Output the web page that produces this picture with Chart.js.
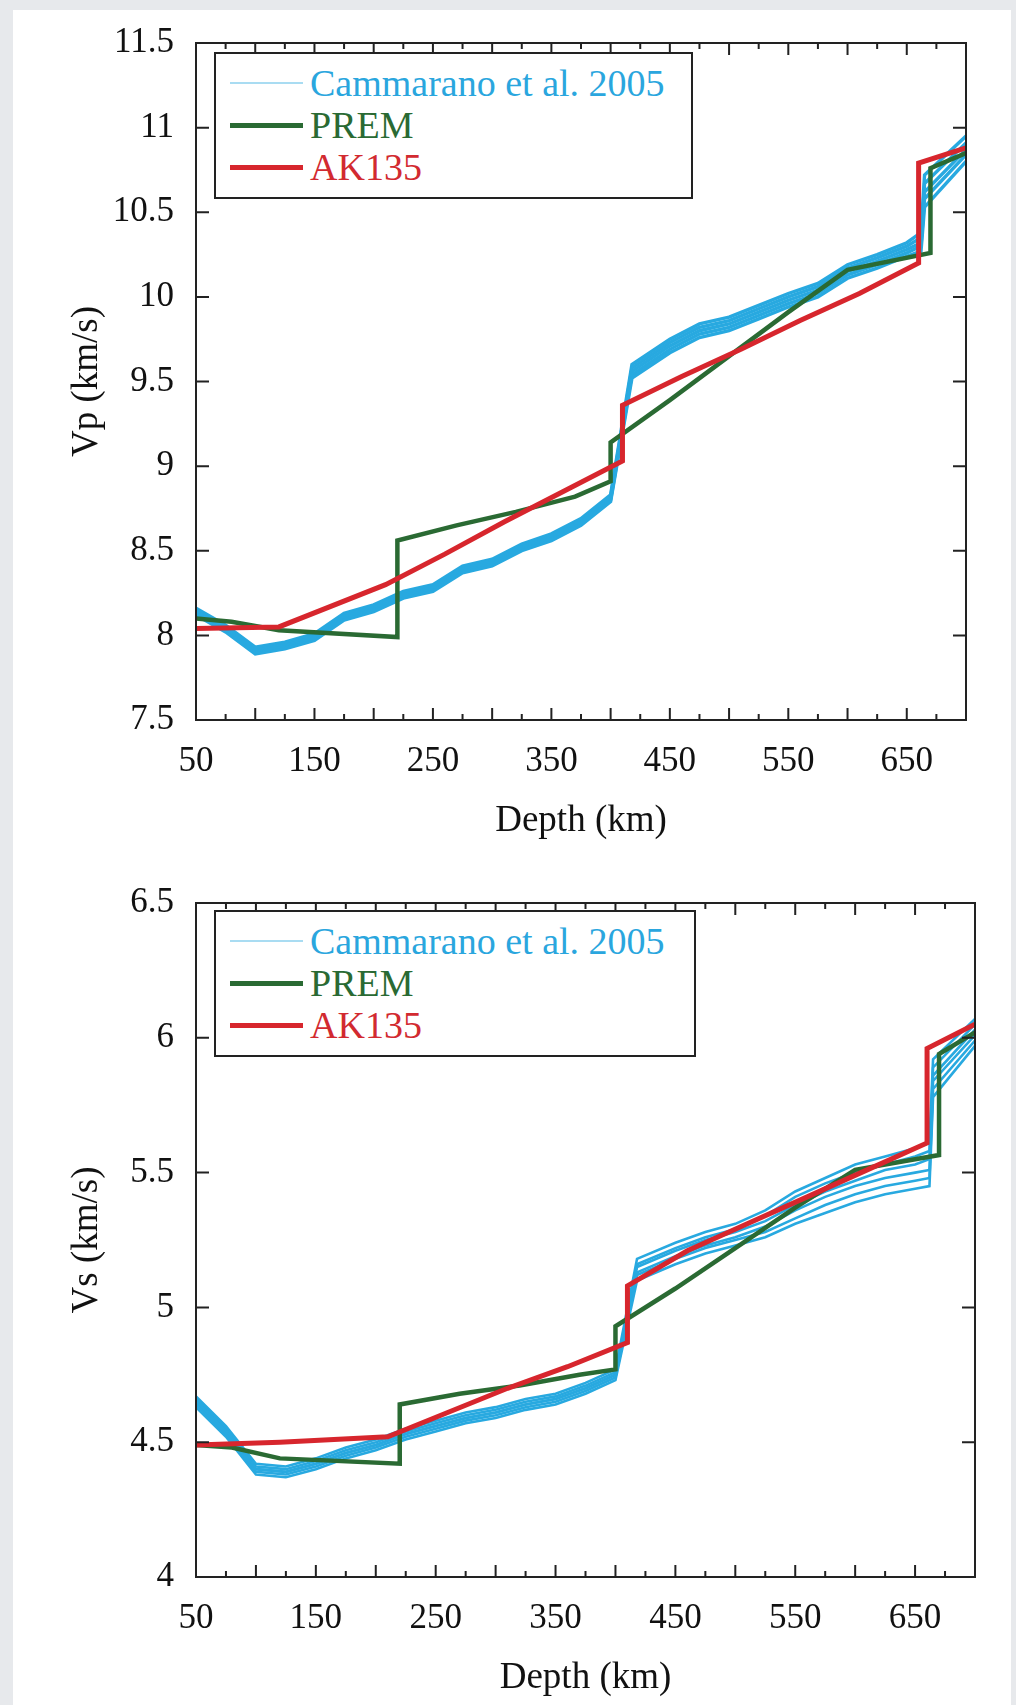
<!DOCTYPE html>
<html>
<head>
<meta charset="utf-8">
<title>Vp and Vs versus depth</title>
<script src="https://cdn.jsdelivr.net/npm/chart.js@4.4.1/dist/chart.umd.min.js"></script>
<style>
  html, body { margin: 0; padding: 0; background: #e7e9ec; }
  #page { position: relative; width: 1016px; height: 1705px; overflow: hidden; }
  #sheet { position: absolute; left: 13px; top: 10px; width: 998px; height: 1695px; background: #fff; }
  canvas { position: absolute; left: 0; }
  #vpChart { top: 0; }
  #vsChart { top: 860px; }
  .legend {
    position: absolute; left: 214px; width: 479px; height: 147px;
    box-sizing: border-box; border: 2px solid #222; background: #fff;
    padding-top: 8px;
    font-family: 'Liberation Serif', 'Times New Roman', serif; font-size: 38px;
  }
  #vpLegend { top: 52px; }
  #vsLegend { top: 910px; width: 482px; }
  .legend .row { display: flex; align-items: center; height: 42px; line-height: 42px; white-space: nowrap; }
  .legend .swatch { margin-left: 14px; margin-right: 7px; width: 73px; }
</style>
</head>
<body>
<div id="page">
  <div id="sheet"></div>
  <canvas id="vpChart" width="1016" height="860"></canvas>
  <canvas id="vsChart" width="1016" height="845"></canvas>
  <div id="vpLegend" class="legend"></div>
  <div id="vsLegend" class="legend"></div>
</div>
<script>
// Values (depth in km, velocity in km/s)

const xTickVals = [50, 150, 250, 350, 450, 550, 650];
const vpTickVals = [7.5, 8, 8.5, 9, 9.5, 10, 10.5, 11, 11.5];
const vsTickVals = [4, 4.5, 5, 5.5, 6, 6.5];

const seriesNames = ['Cammarano et al. 2005', 'PREM', 'AK135'];

// PREM
const premDepth = [50, 80, 120, 220, 220, 270, 320, 370, 400, 400, 450, 500, 550, 600, 670, 670, 700];
const premVp = [8.10, 8.08, 8.03, 7.99, 8.56, 8.65, 8.73, 8.82, 8.91, 9.14, 9.39, 9.65, 9.91, 10.16, 10.26, 10.76, 10.85];
const premVs = [4.49, 4.48, 4.44, 4.42, 4.64, 4.68, 4.71, 4.75, 4.77, 4.93, 5.07, 5.22, 5.37, 5.51, 5.565, 5.94, 6.02];

// AK135
const ak135Depth = [50, 120, 210, 260, 310, 360, 410, 410, 460, 510, 560, 610, 660, 660, 700];
const ak135Vp = [8.04, 8.05, 8.30, 8.48, 8.67, 8.85, 9.03, 9.36, 9.53, 9.69, 9.86, 10.02, 10.20, 10.79, 10.88];
const ak135Vs = [4.49, 4.50, 4.52, 4.61, 4.70, 4.78, 4.87, 5.08, 5.21, 5.31, 5.41, 5.51, 5.61, 5.96, 6.05];

// Cammarano et al. 2005 (bundle of profiles)
const cammDepth = [50, 75, 100, 125, 150, 175, 200, 225, 250, 275, 300, 325, 350, 375, 400, 418, 450, 475, 500, 525, 550, 575, 600, 625, 650, 662, 665, 700];

const cammVp = [
  [8.12, 8.02, 7.89, 7.92, 7.97, 8.09, 8.14, 8.22, 8.26, 8.37, 8.41, 8.50, 8.56, 8.65, 8.79, 9.52, 9.67, 9.76, 9.80, 9.87, 9.94, 10.00, 10.11, 10.17, 10.24, 10.27, 10.53, 10.80],
  [8.13, 8.03, 7.90, 7.93, 7.98, 8.10, 8.15, 8.23, 8.27, 8.38, 8.42, 8.51, 8.57, 8.66, 8.80, 9.54, 9.69, 9.78, 9.82, 9.89, 9.96, 10.02, 10.13, 10.19, 10.26, 10.30, 10.58, 10.84],
  [8.14, 8.04, 7.91, 7.94, 7.99, 8.11, 8.16, 8.24, 8.28, 8.39, 8.43, 8.52, 8.58, 8.67, 8.81, 9.56, 9.71, 9.80, 9.84, 9.91, 9.98, 10.04, 10.15, 10.21, 10.28, 10.32, 10.62, 10.87],
  [8.15, 8.05, 7.92, 7.95, 8.00, 8.12, 8.17, 8.25, 8.29, 8.40, 8.44, 8.53, 8.59, 8.68, 8.82, 9.58, 9.73, 9.82, 9.86, 9.93, 10.00, 10.06, 10.17, 10.23, 10.30, 10.35, 10.67, 10.91],
  [8.16, 8.06, 7.93, 7.96, 8.01, 8.13, 8.18, 8.26, 8.30, 8.41, 8.45, 8.54, 8.60, 8.69, 8.83, 9.60, 9.75, 9.84, 9.88, 9.95, 10.02, 10.08, 10.19, 10.25, 10.32, 10.38, 10.72, 10.95]
];

const cammVs = [
  [4.63, 4.52, 4.38, 4.37, 4.40, 4.44, 4.47, 4.51, 4.54, 4.57, 4.59, 4.62, 4.64, 4.68, 4.73, 5.10, 5.16, 5.20, 5.23, 5.26, 5.31, 5.35, 5.39, 5.42, 5.44, 5.45, 5.78, 5.97],
  [4.64, 4.53, 4.39, 4.38, 4.41, 4.45, 4.48, 4.52, 4.55, 4.58, 4.60, 4.63, 4.65, 4.69, 4.74, 5.12, 5.18, 5.22, 5.25, 5.28, 5.33, 5.38, 5.42, 5.45, 5.47, 5.48, 5.81, 5.99],
  [4.65, 4.54, 4.40, 4.39, 4.42, 4.46, 4.49, 4.53, 4.56, 4.59, 4.61, 4.64, 4.66, 4.70, 4.75, 5.13, 5.19, 5.23, 5.26, 5.30, 5.36, 5.41, 5.45, 5.48, 5.50, 5.51, 5.84, 6.01],
  [4.65, 4.54, 4.40, 4.39, 4.42, 4.46, 4.49, 4.53, 4.56, 4.59, 4.61, 4.64, 4.66, 4.70, 4.75, 5.15, 5.21, 5.25, 5.28, 5.32, 5.38, 5.43, 5.47, 5.51, 5.53, 5.55, 5.86, 6.03],
  [4.66, 4.55, 4.41, 4.40, 4.43, 4.47, 4.50, 4.54, 4.57, 4.60, 4.62, 4.65, 4.67, 4.71, 4.76, 5.16, 5.22, 5.26, 5.29, 5.34, 5.41, 5.46, 5.50, 5.53, 5.56, 5.58, 5.89, 6.05],
  [4.67, 4.56, 4.42, 4.41, 4.44, 4.48, 4.51, 4.55, 4.58, 4.61, 4.63, 4.66, 4.68, 4.72, 4.77, 5.18, 5.24, 5.28, 5.31, 5.36, 5.43, 5.48, 5.53, 5.56, 5.59, 5.61, 5.92, 6.07]
];

// Styles
const CAMM_COLOR = '#28a9e0';
const PREM_COLOR = '#2a6a33';
const AK_COLOR = '#d7262d';
const AXIS_COLOR = '#222';
const TEXT_COLOR = '#111';
const X_TICK_STEP = 25;

const legendStyles = [
  { line: '#a9dcf2', width: 2, text: '#2aa6de' },
  { line: PREM_COLOR, width: 5, text: PREM_COLOR },
  { line: AK_COLOR, width: 5, text: '#d22a30' }
];

Chart.defaults.font.family = "'Liberation Serif', 'Times New Roman', serif";
Chart.defaults.color = TEXT_COLOR;

// Box around the plot with inward tick marks
const frameTicks = {
  id: 'frameTicks',
  afterDatasetsDraw(chart) {
    const { ctx, chartArea: a, scales: { x, y } } = chart;
    ctx.save();
    ctx.strokeStyle = AXIS_COLOR;
    ctx.lineWidth = 2;
    ctx.beginPath();
    for (let d = x.min; d <= x.max; d += X_TICK_STEP) {
      const px = x.getPixelForValue(d);
      const len = d % 50 === 0 ? 12 : 6;
      ctx.moveTo(px, a.bottom);
      ctx.lineTo(px, a.bottom - len);
      ctx.moveTo(px, a.top);
      ctx.lineTo(px, a.top + len);
    }
    y.ticks.forEach(t => {
      const py = y.getPixelForValue(t.value);
      ctx.moveTo(a.left, py);
      ctx.lineTo(a.left + 13, py);
      ctx.moveTo(a.right, py);
      ctx.lineTo(a.right - 13, py);
    });
    ctx.stroke();
    ctx.strokeRect(a.left, a.top, a.right - a.left, a.bottom - a.top);
    ctx.restore();
  }
};

function toPoints(depths, values) {
  return depths.map((d, i) => ({ x: d, y: values[i] }));
}

/**
 * Builds one velocity-depth panel
 */
function createProfileChart(canvasId, cfg) {
  const canvas = document.getElementById(canvasId);
  if (!canvas) {
    console.error(`Canvas ${canvasId} not found`);
    return null;
  }

  const datasets = cfg.camm.map((vals, i) => ({
    label: i === 0 ? seriesNames[0] : '',
    data: toPoints(cammDepth, vals),
    borderColor: CAMM_COLOR,
    borderWidth: cfg.cammWidth,
    order: 3
  }));
  datasets.push({
    label: seriesNames[1],
    data: toPoints(premDepth, cfg.prem),
    borderColor: PREM_COLOR,
    borderWidth: 4.5,
    order: 2
  });
  datasets.push({
    label: seriesNames[2],
    data: toPoints(ak135Depth, cfg.ak135),
    borderColor: AK_COLOR,
    borderWidth: 5,
    order: 1
  });

  return new Chart(canvas.getContext('2d'), {
    type: 'line',
    data: { datasets },
    options: {
      responsive: false,
      animation: false,
      devicePixelRatio: 1,
      elements: {
        point: { radius: 0 },
        line: { tension: 0, borderJoinStyle: 'miter', borderCapStyle: 'butt' }
      },
      layout: { padding: cfg.padding },
      plugins: {
        legend: { display: false },
        tooltip: { enabled: false }
      },
      scales: {
        x: {
          type: 'linear',
          min: 50,
          max: 700,
          afterBuildTicks: s => { s.ticks = xTickVals.map(v => ({ value: v })); },
          afterFit: s => { s.height = 123; },
          grid: { display: false, drawTicks: false },
          border: { display: false },
          ticks: { padding: 21, font: { size: 35 }, color: TEXT_COLOR, maxRotation: 0, callback: v => String(v) },
          title: { display: true, text: 'Depth (km)', font: { size: 37 }, color: TEXT_COLOR, padding: 0 }
        },
        y: {
          type: 'linear',
          min: cfg.yTicks[0],
          max: cfg.yTicks[cfg.yTicks.length - 1],
          afterBuildTicks: s => { s.ticks = cfg.yTicks.map(v => ({ value: v })); },
          afterFit: s => { s.width = 196; },
          grid: { display: false, drawTicks: false },
          border: { display: false },
          ticks: { padding: 22, font: { size: 35 }, color: TEXT_COLOR, callback: v => String(v) },
          title: { display: true, text: cfg.yTitle, font: { size: 37 }, color: TEXT_COLOR, padding: { top: 65, bottom: 0 } }
        }
      }
    },
    plugins: [frameTicks]
  });
}

function buildLegend(elId) {
  const box = document.getElementById(elId);
  seriesNames.forEach((name, i) => {
    const st = legendStyles[i];
    const row = document.createElement('div');
    row.className = 'row';
    const sw = document.createElement('span');
    sw.className = 'swatch';
    sw.style.borderTop = `${st.width}px solid ${st.line}`;
    const txt = document.createElement('span');
    txt.textContent = name;
    txt.style.color = st.text;
    row.appendChild(sw);
    row.appendChild(txt);
    box.appendChild(row);
  });
}

createProfileChart('vpChart', {
  camm: cammVp, prem: premVp, ak135: ak135Vp, cammWidth: 3.4,
  yTicks: vpTickVals, yTitle: 'Vp (km/s)',
  padding: { top: 34, right: 50, bottom: 17, left: 0 }
});

createProfileChart('vsChart', {
  camm: cammVs, prem: premVs, ak135: ak135Vs, cammWidth: 2.6,
  yTicks: vsTickVals, yTitle: 'Vs (km/s)',
  padding: { top: 23, right: 41, bottom: 5, left: 0 }
});

buildLegend('vpLegend');
buildLegend('vsLegend');
</script>
</body>
</html>
